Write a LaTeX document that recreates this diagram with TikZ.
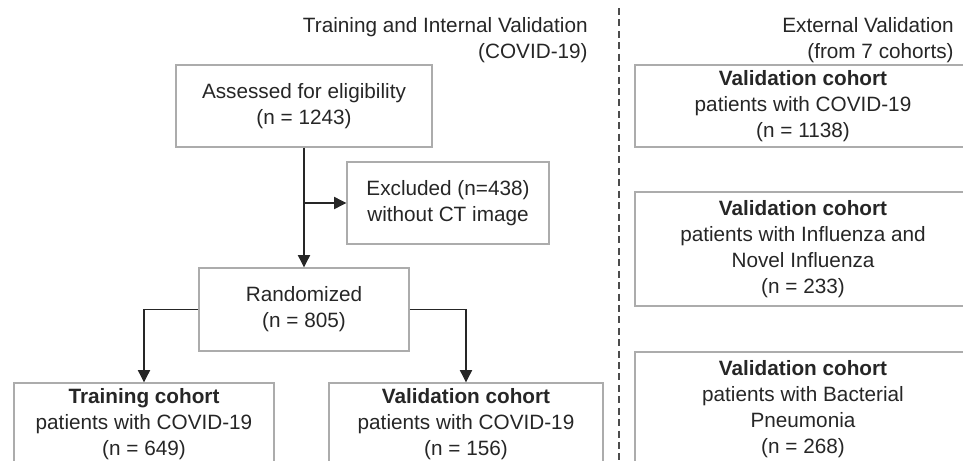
\documentclass[tikz,border=0pt]{standalone}
\usepackage{fontspec}
\setmainfont{Liberation Sans}
\usetikzlibrary{arrows.meta, positioning}

\begin{document}
\begin{tikzpicture}[
  x=0.02cm,y=-0.02cm,
  box/.style={draw=gray!65, line width=0.8pt, align=center, inner sep=0pt, text=black!85, font=\fontsize{11.8}{14.7}\selectfont},
  flow/.style={-{Triangle[length=7pt, width=7pt]}, line width=0.6pt, draw=black!85},
  head/.style={align=right, anchor=east, inner sep=0pt, text=black!85, font=\fontsize{11.8}{14.7}\selectfont}
]
\useasboundingbox (0,0) rectangle (963,460);

% headers
\node[head] (hint) at (588,40) {Training and Internal Validation\\(COVID-19)};
\node[head] (hext) at (954,40) {External Validation\\(from 7 cohorts)};

% left: training and internal validation
\node[box, minimum width=5.12cm, minimum height=1.64cm] (assess) at (304,106) {Assessed for eligibility\\(n = 1243)};
\node[box, minimum width=4.04cm, minimum height=1.64cm] (excl) at (448,203) {Excluded (n=438)\\without CT image};
\node[box, minimum width=4.2cm, minimum height=1.66cm] (rand) at (304,309.5) {Randomized\\(n = 805)};
\node[box, minimum width=5.2cm, minimum height=1.64cm] (train) at (144,424) {\textbf{Training cohort}\\patients with COVID-19\\(n = 649)};
\node[box, minimum width=5.48cm, minimum height=1.64cm] (ival) at (466,424) {\textbf{Validation cohort}\\patients with COVID-19\\(n = 156)};

\draw[flow] (assess.south) -- (rand.north);
\draw[flow] (assess.south |- excl.west) -- (excl.west);
\draw[flow] (rand.west) -| (train.north);
\draw[flow] (rand.east) -| (ival.north);

% right: external validation
\node[box, minimum width=6.72cm, minimum height=1.64cm] (ext1) at (803,106) {\textbf{Validation cohort}\\patients with COVID-19\\(n = 1138)};
\node[box, minimum width=6.72cm, minimum height=2.28cm] (ext2) at (803,249) {\textbf{Validation cohort}\\patients with Influenza and\\Novel Influenza\\(n = 233)};
\node[box, minimum width=6.72cm, minimum height=2.28cm] (ext3) at (803,409) {\textbf{Validation cohort}\\patients with Bacterial\\Pneumonia\\(n = 268)};

% separator
\draw[black!70, line width=0.6pt, dash pattern=on 4pt off 2.5pt] (619,8) -- (619,460);

\end{tikzpicture}
\end{document}
